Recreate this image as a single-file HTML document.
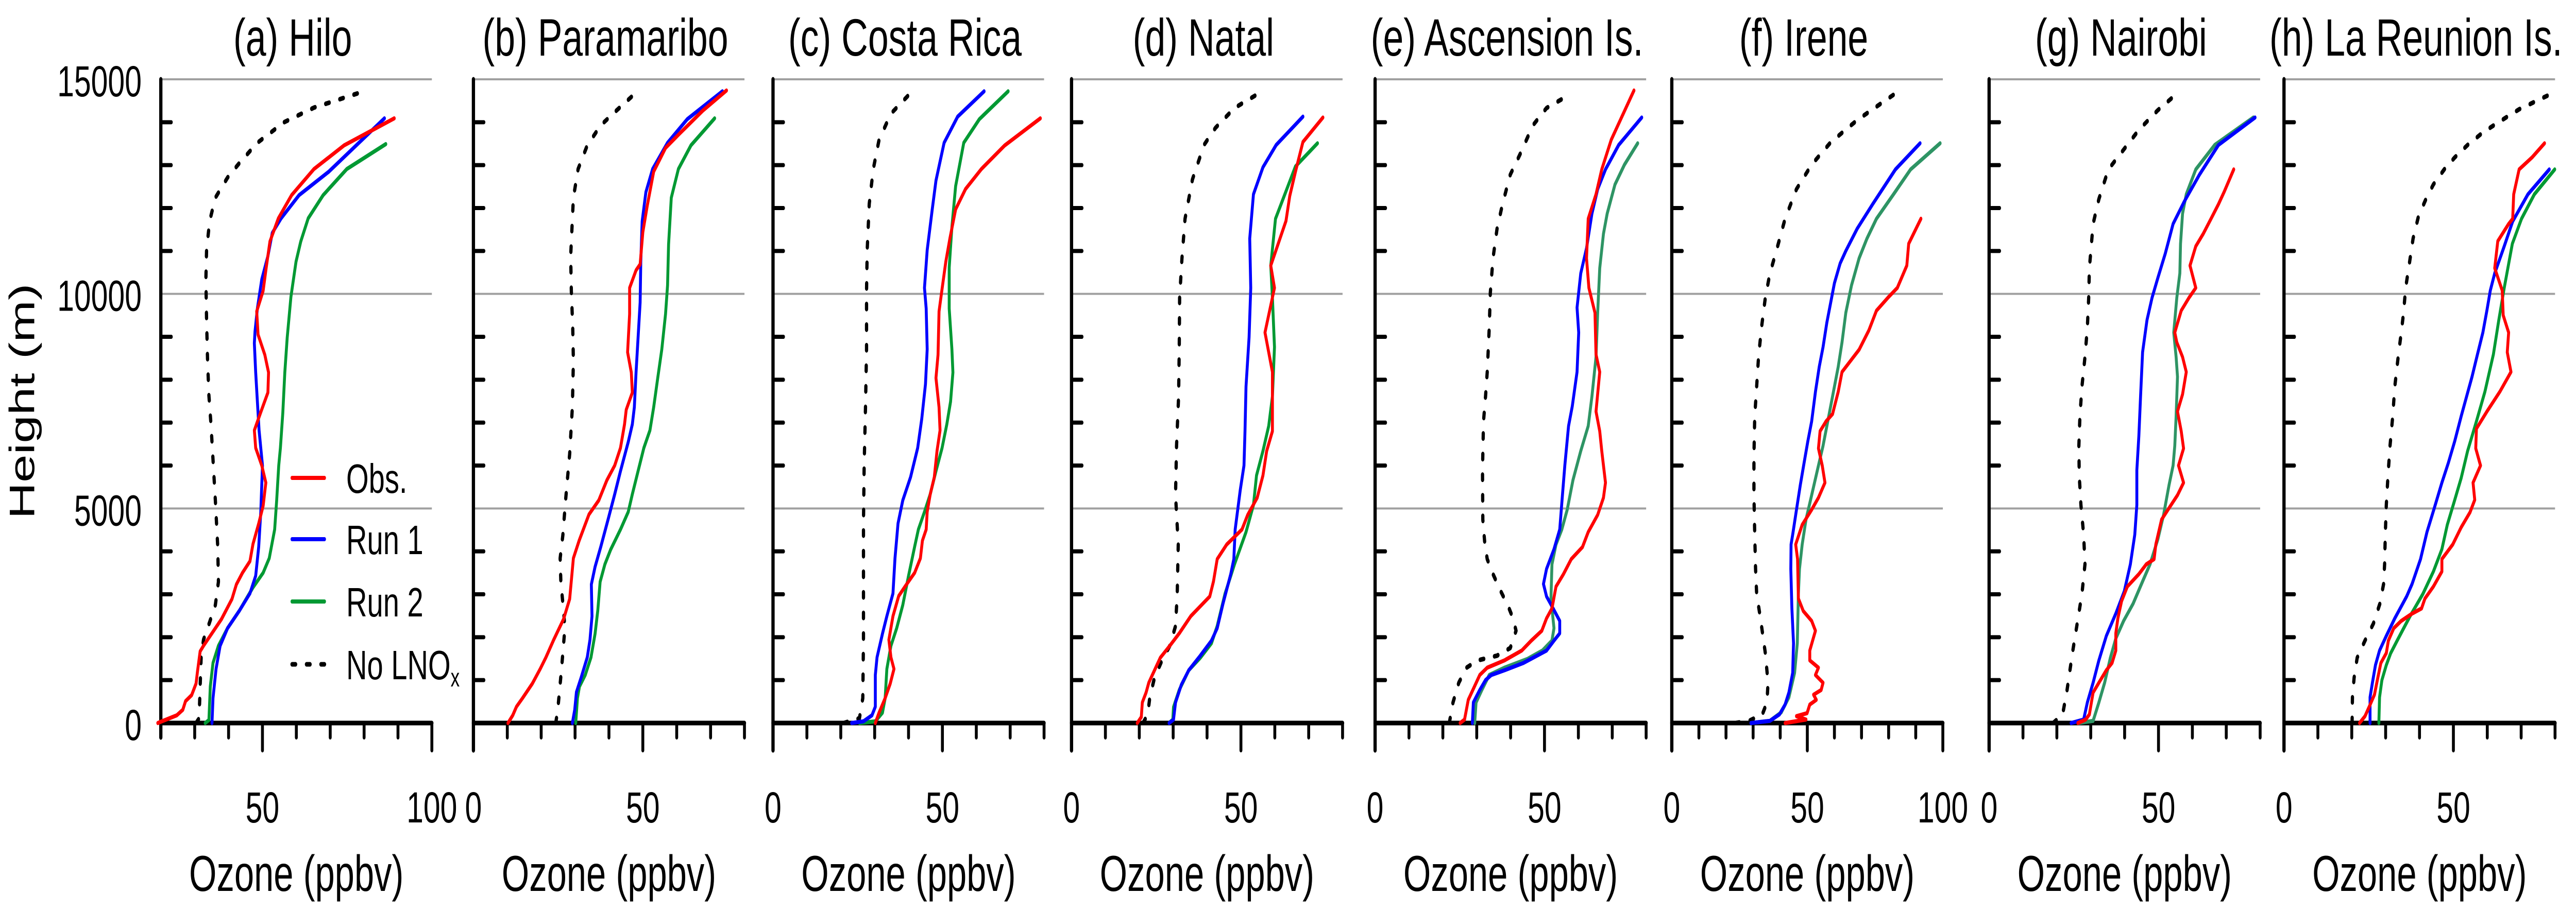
<!DOCTYPE html>
<html><head><meta charset="utf-8"><style>
html,body{margin:0;padding:0;background:#fff;overflow:hidden;width:100vw;height:100vh;}
svg{display:block;width:100vw;height:100vh;font-family:"Liberation Sans",Arial,sans-serif;}
</style></head><body>
<svg id="chart" viewBox="0 0 7128 1769" preserveAspectRatio="none" xmlns="http://www.w3.org/2000/svg"></svg>
<script>
// ---------- data (ozone ppbv, height km) ----------
const obsO_a=[19.1,20.3,24.7,26.5,27.3,29.1,30.4,30.8,31.6,32.6,34.4,37.9,41.0,42.3,44.1,46.3,47.2,48.9,50.2,51.0,49.8,48.0,47.6,49.4,51.6,51.8,50.7,48.7,48.3,50.2,51.1,52.2,54.7,58.6,65.2,74.1,88.9];
const obsH_a=[0,0.04,0.18,0.31,0.51,0.65,0.92,1.19,1.67,1.80,2.01,2.42,2.89,3.23,3.50,3.77,4.17,4.65,5.06,5.60,6.00,6.41,6.82,7.22,7.70,8.17,8.58,9.05,9.59,10.07,10.61,11.22,11.76,12.30,12.91,13.46,14.09];
const run1O_a=[35.1,35.4,36.3,37.5,39.7,43.2,46.3,48.0,48.9,49.5,50.0,49.0,48.5,48.0,47.6,47.8,48.5,49.8,51.6,52.9,55.5,60.8,69.6,86.0];
const run1H_a=[0,0.58,1.26,1.80,2.21,2.62,3.02,3.43,4.11,4.92,6.0,6.82,7.49,8.17,8.85,9.12,9.66,10.34,10.88,11.42,11.76,12.30,12.85,14.09];
const run2O_a=[33.1,34.2,34.6,35.4,37.0,39.7,43.2,47.2,50.2,52.0,53.6,54.2,54.8,55.3,56.0,56.6,57.3,58.4,59.9,61.3,63.5,67.9,74.9,86.4];
const run2H_a=[0,0.07,0.85,1.40,1.80,2.21,2.62,3.16,3.50,3.84,4.51,5.19,6.0,6.41,7.22,8.17,8.98,9.93,10.75,11.22,11.76,12.30,12.91,13.49];
const nolnoxO_a=[30.4,31.3,31.6,31.9,32.6,34.4,36.1,37.0,36.8,36.1,35.4,34.8,34.2,33.8,33.5,33.3,33.5,34.4,36.1,39.7,43.2,48.5,56.4,65.2,78.0];
const nolnoxH_a=[0,0.11,0.85,1.53,1.94,2.35,2.75,3.29,4.11,5.19,6.14,6.96,7.63,8.44,9.39,10.34,11.02,11.69,12.24,12.71,13.05,13.52,14.00,14.34,14.67];

const obsO_b=[10.2,11.6,12.7,14.5,17.4,19.7,21.4,23.7,26.6,28.4,29.5,31.2,34.1,37.0,39.4,41.7,43.4,44.6,45.1,46.9,46.6,45.5,46.1,46.1,48.0,49.2,50.0,51.3,53.2,56.7,60.8,67.7,74.7];
const obsH_b=[0,0.18,0.38,0.58,0.92,1.26,1.53,1.94,2.42,2.89,3.84,4.25,4.86,5.19,5.66,6.0,6.41,6.96,7.30,7.70,8.17,8.64,9.53,10.14,10.55,10.69,11.44,12.05,12.85,13.40,13.73,14.27,14.74];
const run1O_b=[29.2,29.9,30.4,31.8,33.6,34.4,35.0,34.8,35.9,37.6,39.9,41.7,43.4,45.7,46.9,47.5,48.0,48.6,49.2,49.4,49.8,50.9,52.9,57.3,63.1,73.5];
const run1H_b=[0,0.31,0.72,1.06,1.53,1.94,2.49,3.23,3.64,4.11,4.79,5.33,5.87,6.55,6.96,7.36,8.17,8.98,9.80,10.75,11.69,12.37,12.91,13.52,14.07,14.72];
const run2O_b=[30.2,30.7,31.3,33.0,34.7,35.9,36.7,37.4,38.8,40.5,43.4,45.7,46.9,48.6,50.3,52.1,53.2,54.4,55.6,56.7,57.3,57.6,58.4,60.5,64.2,71.2];
const run2H_b=[0,0.58,0.85,1.12,1.53,2.08,2.62,3.29,3.70,4.04,4.51,4.92,5.33,5.87,6.41,6.82,7.36,8.04,8.71,9.53,10.20,11.15,12.24,12.91,13.46,14.09];
const nolnoxO_b=[24.3,24.9,26.0,27.0,26.6,25.8,25.6,26.4,27.2,28.4,29.2,29.5,29.3,28.9,28.7,29.5,30.9,33.6,37.6,42.2,46.9];
const nolnoxH_b=[0,0.31,1.26,2.21,2.62,3.29,3.84,4.38,5.19,6.27,7.36,8.44,9.25,10.07,10.88,12.24,12.91,13.46,13.93,14.27,14.61];

const obsO_c=[30.2,31.3,33.1,34.6,35.7,34.8,34.2,35.4,37.1,39.4,41.8,43.5,44.1,45.2,45.5,46.4,47.6,48.4,49.3,49.0,48.1,48.7,49.0,49.7,51.0,52.2,53.9,56.8,61.5,68.4,78.9];
const obsH_c=[0,0.24,0.58,0.92,1.26,1.53,1.94,2.49,2.96,3.23,3.50,3.84,4.25,4.51,4.92,5.33,5.73,6.34,6.82,7.36,8.04,8.58,9.59,10.0,10.75,11.29,11.97,12.44,12.91,13.46,14.09];
const run1O_c=[23.2,26.7,29.2,30.2,30.2,30.7,32.3,33.6,35.4,36.0,36.9,38.3,40.6,42.7,43.9,45.0,45.5,45.2,44.7,45.5,47.0,48.1,50.5,54.5,62.3];
const run1H_c=[0,0.04,0.18,0.38,1.12,1.53,2.08,2.49,3.02,3.84,4.65,5.19,5.73,6.41,7.09,7.90,8.71,9.66,10.14,11.02,11.97,12.64,13.52,14.13,14.72];
const run2O_c=[25.5,30.2,32.3,33.1,33.6,34.8,36.5,38.3,40.0,41.8,42.9,44.7,46.4,48.1,49.9,51.3,52.4,53.1,52.8,52.0,52.0,52.8,53.9,56.3,60.9,69.4];
const run2H_c=[0,0.04,0.24,0.58,1.26,1.80,2.21,2.75,3.43,4.11,4.51,4.92,5.33,5.87,6.41,6.96,7.49,8.17,8.71,9.66,10.61,11.56,12.51,13.52,14.07,14.72];
const nolnoxO_c=[20.9,25.5,26.5,26.7,26.7,26.7,26.9,27.3,27.6,27.6,27.8,28.4,29.6,31.3,34.8,40.0];
const nolnoxH_c=[0,0.11,0.58,1.94,3.29,4.65,6.0,7.36,8.71,10.07,11.02,12.10,12.91,13.59,14.20,14.63];

const obsO_d=[19.4,20.6,20.9,22.0,22.8,24.5,26.2,29.0,31.8,35.2,38.0,40.8,41.9,43.0,45.8,50.3,52.0,54.8,56.5,57.6,59.3,59.3,57.1,59.9,58.8,63.3,64.4,66.1,68.3,74.2];
const obsH_d=[0,0.14,0.48,0.71,0.94,1.23,1.52,1.80,2.09,2.49,2.72,2.95,3.30,3.82,4.16,4.51,4.85,5.25,5.77,6.34,6.80,8.18,9.10,10.14,10.66,11.70,12.28,12.85,13.54,14.11];
const run1O_d=[28.8,30.1,30.7,32.4,34.6,38.0,41.3,43.0,44.7,47.0,47.9,48.3,49.8,50.9,51.2,51.5,52.4,52.9,52.6,53.7,56.5,60.4,68.3];
const run1H_d=[0,0.08,0.48,0.89,1.23,1.57,1.92,2.21,2.78,3.47,3.82,4.51,5.43,6.0,6.80,7.84,8.99,10.14,11.29,12.32,12.95,13.47,14.13];
const run2O_d=[28.8,29.9,30.1,31.8,34.6,38.0,41.3,43.0,45.3,48.1,51.5,53.7,54.6,56.5,58.2,59.3,59.9,59.3,58.8,60.2,63.3,66.1,72.6];
const run2H_d=[0,0.08,0.37,0.77,1.23,1.52,1.86,2.26,3.01,3.70,4.45,5.08,5.77,6.34,6.92,7.61,8.76,9.91,10.66,11.75,12.39,12.97,13.51];
const nolnoxO_d=[21.1,22.5,23.1,24.5,26.7,29.0,30.7,31.2,31.5,30.7,31.0,31.6,31.8,31.9,32.6,33.5,35.7,39.1,42.5,48.1,54.6];
const nolnoxH_d=[0,0.20,0.60,1.06,1.46,1.80,2.26,3.01,4.16,5.31,6.46,7.61,8.76,9.91,10.83,11.75,12.67,13.47,13.87,14.33,14.64];

const obsO_e=[25.1,26.4,27.5,29.2,30.9,33.1,38.2,43.3,46.1,49.2,50.6,52.2,53.4,55.6,57.9,61.2,62.9,65.7,67.4,68.0,66.9,66.3,65.2,66.3,65.2,64.9,63.1,62.4,62.9,65.2,66.9,69.7,76.4];
const obsH_e=[0,0.08,0.54,0.83,1.12,1.29,1.46,1.69,1.92,2.15,2.44,2.67,3.18,3.47,3.82,4.10,4.45,4.85,5.25,5.60,6.34,6.80,7.26,8.18,8.59,9.56,10.14,10.83,11.75,12.32,12.90,13.59,14.74];
const run1O_e=[28.7,29.0,30.9,32.6,34.3,38.2,43.8,50.6,52.8,54.5,54.5,52.2,50.6,49.7,50.6,52.8,54.5,55.3,56.0,57.1,58.2,59.6,60.1,59.6,60.7,62.4,64.0,65.7,68.0,71.9,78.7];
const run1H_e=[0,0.48,0.77,1.00,1.12,1.23,1.40,1.69,1.92,2.09,2.38,2.72,2.95,3.24,3.59,4.05,4.51,5.31,6.0,6.92,7.38,8.18,9.10,9.68,10.48,11.06,11.87,12.44,12.90,13.47,14.11];
const run2O_e=[29.4,29.8,31.5,33.7,38.2,44.9,49.4,52.2,52.8,51.9,52.2,53.4,55.1,56.7,58.4,60.7,62.9,64.0,65.2,65.7,66.3,67.4,68.5,70.8,73.6,77.5];
const run2H_e=[0,0.48,0.77,1.12,1.29,1.49,1.69,1.92,2.21,2.90,3.70,4.16,4.51,4.97,5.66,6.34,6.92,7.61,8.53,9.56,10.60,11.40,11.87,12.55,13.01,13.51];
const nolnoxO_e=[21.9,23.0,24.7,27.0,30.3,36.0,39.9,41.6,40.7,39.3,37.1,34.8,33.1,32.4,31.8,31.7,32.0,32.6,33.1,33.7,34.0,34.8,36.0,37.6,39.9,42.7,46.6,50.6,55.6];
const nolnoxH_e=[0,0.48,0.94,1.29,1.46,1.57,1.75,2.15,2.44,2.72,3.07,3.47,3.82,4.16,4.74,5.89,7.03,7.61,8.18,9.22,10.02,10.83,11.52,12.09,12.78,13.24,13.93,14.33,14.56];

const obsO_f=[41.8,49.5,46.0,49.9,50.9,53.3,52.3,55.1,55.8,53.0,54.1,50.9,50.9,53.0,51.6,48.5,46.7,46.4,45.7,48.1,51.6,54.1,56.5,55.5,54.1,54.7,56.9,59.3,61.4,62.8,66.3,69.1,72.7,75.5,79.7,83.2,86.7,87.4,91.9];
const obsH_f=[0,0.08,0.16,0.23,0.43,0.54,0.66,0.77,0.94,1.12,1.29,1.46,1.69,2.15,2.38,2.61,2.90,3.82,4.16,4.62,4.97,5.25,5.60,6.0,6.40,6.80,7.03,7.20,7.72,8.18,8.47,8.70,9.15,9.61,9.91,10.14,10.66,11.17,11.75];
const run1O_f=[29.2,36.2,39.7,41.8,43.2,44.6,44.9,44.3,43.9,44.0,44.6,46.0,47.4,48.8,50.2,51.6,53.0,54.4,55.8,57.2,58.6,60.0,62.1,64.2,68.4,74.1,82.5,91.6];
const run1H_f=[0,0.05,0.20,0.43,0.71,1.17,1.86,2.67,3.59,4.16,4.39,4.97,5.54,6.06,6.57,7.03,7.72,8.30,8.76,9.33,9.79,10.25,10.71,11.0,11.52,12.09,12.90,13.51];
const run2O_f=[29.2,36.2,40.4,43.2,45.3,46.3,46.7,47.1,48.1,49.5,51.6,53.7,55.8,57.9,59.3,61.4,62.8,64.2,66.3,69.1,72.0,75.5,81.8,88.1,99.0];
const run2H_f=[0,0.05,0.25,0.60,1.17,1.86,3.01,3.59,4.16,4.74,5.31,5.89,6.46,7.15,7.61,8.30,8.87,9.56,10.20,10.83,11.29,11.75,12.32,12.90,13.51];
const nolnoxO_f=[23.6,28.5,33.4,35.1,35.5,34.5,32.7,31.3,30.9,30.6,30.3,30.3,30.6,31.3,32.0,33.1,34.5,36.2,38.3,41.8,46.0,51.6,58.6,68.4,81.8];
const nolnoxH_f=[0,0.05,0.20,0.48,0.94,1.63,2.44,3.01,3.59,4.39,5.31,6.23,7.15,7.84,8.53,9.22,9.91,10.48,10.94,11.75,12.44,13.01,13.53,14.05,14.64];

const obsO_g=[26.2,28.5,29.6,30.2,30.7,32.4,34.6,36.3,37.4,37.4,38.0,39.1,40.8,44.2,46.4,48.7,49.2,50.9,53.7,55.6,57.4,55.9,57.4,56.7,55.6,57.1,58.2,57.1,55.4,54.8,56.7,59.0,61.0,59.3,61.0,63.2,65.5,67.7,69.4,72.2];
const obsH_g=[0,0.08,0.20,0.48,0.71,0.94,1.23,1.40,1.69,2.09,2.44,2.84,3.18,3.47,3.70,3.82,4.16,4.74,5.08,5.31,5.60,6.0,6.40,6.80,7.26,7.66,8.18,8.53,8.87,9.10,9.61,9.91,10.14,10.66,11.11,11.40,11.75,12.09,12.38,12.90];
const run1O_g=[24.2,27.9,29.0,30.7,32.4,34.6,37.4,39.9,41.7,43.0,43.6,43.6,44.2,44.7,45.3,46.6,48.1,49.8,52.0,54.3,57.6,62.1,67.7,78.5];
const run1H_g=[0,0.08,0.48,0.94,1.46,2.03,2.55,3.07,3.70,4.39,5.08,5.89,6.69,7.61,8.64,9.39,9.91,10.37,10.94,11.63,12.15,12.78,13.47,14.11];
const run2O_g=[26.2,30.7,32.4,34.1,35.8,37.4,39.7,42.5,45.3,47.5,49.8,51.5,53.1,54.3,54.8,55.2,55.6,55.2,54.5,55.4,56.3,56.5,57.1,58.2,61.0,66.6,78.0];
const run2H_g=[0,0.05,0.48,0.94,1.52,1.97,2.38,2.78,3.30,3.70,4.28,4.85,5.54,6.0,6.46,7.15,8.07,8.53,9.10,9.91,10.48,11.17,11.87,12.32,12.90,13.47,14.11];
const nolnoxO_g=[18.9,21.7,22.9,24.6,26.0,27.4,28.3,27.9,27.1,26.6,26.5,26.8,27.4,28.3,29.0,29.4,29.6,30.7,32.4,35.2,39.7,44.2,49.8,56.5];
const nolnoxH_g=[0,0.20,0.71,1.63,2.32,3.01,3.70,4.39,5.08,5.77,6.46,7.15,7.84,8.53,9.22,9.91,10.60,11.63,12.21,12.90,13.36,13.82,14.28,14.74];

const obsO_h=[22.3,23.9,25.1,26.7,27.7,28.6,30.2,30.8,32.4,34.6,37.8,40.6,41.6,44.1,46.6,46.6,49.8,52.3,54.9,56.3,55.8,58.0,56.6,56.8,59.9,63.7,67.0,65.9,66.3,64.7,64.4,62.2,63.1,66.3,67.5,67.8,69.4,73.2,76.9];
const obsH_h=[0,0.16,0.37,0.66,1.06,1.40,1.63,1.92,2.21,2.38,2.55,2.67,2.90,3.18,3.53,3.82,4.16,4.56,4.91,5.20,5.60,6.0,6.40,6.86,7.26,7.72,8.18,8.64,9.10,9.50,10.08,10.60,11.23,11.63,11.75,12.32,12.90,13.18,13.51];
const run1O_h=[25.4,25.4,26.1,27.0,28.2,30.2,32.7,36.2,37.8,40.3,42.2,44.4,46.6,48.5,50.4,52.3,53.9,55.5,57.1,58.7,59.9,60.9,62.2,65.0,67.5,72.0,78.3];
const run1H_h=[0,0.60,0.94,1.35,1.69,2.03,2.44,2.95,3.24,3.82,4.45,5.02,5.60,6.06,6.57,7.15,7.61,8.07,8.59,9.10,9.62,10.08,10.48,11.11,11.69,12.32,12.90];
const run2O_h=[28.0,28.2,28.9,30.2,31.5,33.4,37.2,41.0,44.1,46.6,48.2,50.4,52.3,54.2,56.8,59.3,61.8,63.4,65.0,67.4,70.1,73.9,79.9];
const run2H_h=[0,0.60,1.00,1.35,1.63,1.92,2.49,3.01,3.53,4.05,4.62,5.20,5.71,6.34,7.03,7.72,8.59,9.39,10.14,11.17,11.75,12.32,12.90];
const nolnoxO_h=[20.1,20.2,20.7,21.6,23.9,26.4,28.3,29.4,29.7,29.9,30.2,30.7,31.3,32.1,32.7,33.7,34.6,35.3,35.9,36.8,38.1,39.7,41.9,44.1,47.3,50.4,54.2,58.7,63.1,69.4,78.3];
const nolnoxH_h=[0,0.60,1.06,1.52,1.92,2.32,2.78,3.24,3.70,4.39,5.08,5.77,6.46,7.15,7.84,8.53,9.10,9.56,10.14,10.60,11.29,11.81,12.21,12.55,12.90,13.18,13.47,13.76,13.99,14.30,14.64];

const panelTitles=["(a) Hilo","(b) Paramaribo","(c) Costa Rica","(d) Natal","(e) Ascension Is.","(f) Irene","(g) Nairobi","(h) La Reunion Is."];
const xMins=[20,0,0,0,0,0,0,0];
const xMaxs=[100,80,80,80,80,100,80,80];
const xTickLabels_a=[50,100];
const xTickLabels_f=[0,50,100];
const xTickLabels_other=[0,50];
const yTickLabels=[0,5000,10000,15000];
const seriesNames=["Obs.","Run 1","Run 2","No LNOx"];

const allData={
 a:[obsO_a,obsH_a,run1O_a,run1H_a,run2O_a,run2H_a,nolnoxO_a,nolnoxH_a],
 b:[obsO_b,obsH_b,run1O_b,run1H_b,run2O_b,run2H_b,nolnoxO_b,nolnoxH_b],
 c:[obsO_c,obsH_c,run1O_c,run1H_c,run2O_c,run2H_c,nolnoxO_c,nolnoxH_c],
 d:[obsO_d,obsH_d,run1O_d,run1H_d,run2O_d,run2H_d,nolnoxO_d,nolnoxH_d],
 e:[obsO_e,obsH_e,run1O_e,run1H_e,run2O_e,run2H_e,nolnoxO_e,nolnoxH_e],
 f:[obsO_f,obsH_f,run1O_f,run1H_f,run2O_f,run2H_f,nolnoxO_f,nolnoxH_f],
 g:[obsO_g,obsH_g,run1O_g,run1H_g,run2O_g,run2H_g,nolnoxO_g,nolnoxH_g],
 h:[obsO_h,obsH_h,run1O_h,run1H_h,run2O_h,run2H_h,nolnoxO_h,nolnoxH_h]
};

// ---------- layout ----------
const axisLeft=[445,1310,2139,2965,3805,4626,5504,6320];
const axisWidth=750, yZero=1404, yTop=154, yMaxVal=15000;
const keys=["a","b","c","d","e","f","g","h"];
const svg=document.getElementById('chart');
const NS="http://www.w3.org/2000/svg";
function mk(tag,attrs,parent){const e=document.createElementNS(NS,tag);for(const k in attrs)e.setAttribute(k,attrs[k]);(parent||svg).appendChild(e);return e;}
function yScale(m){return yZero-(m/yMaxVal)*(yZero-yTop);}

keys.forEach((k,i)=>{
  const x0=axisLeft[i], xmin=xMins[i], xmax=xMaxs[i];
  const xs=v=>x0+(v-xmin)/(xmax-xmin)*axisWidth;
  const g=mk('g',{});
  
  
  [5000,10000,15000].forEach(v=>{
    const l=mk('line',{x1:x0,x2:x0+axisWidth,y1:yScale(v),y2:yScale(v),stroke:'#a0a0a0','stroke-width':4},g);
    
    
  });
  for(let m=1000;m<15000;m+=1000){ if(m%5000===0)continue;
    const t=mk('line',{x1:x0,x2:x0+29,y1:yScale(m),y2:yScale(m),stroke:'#000','stroke-width':8,'stroke-linecap':'round'},g);
    
    
  }
  for(let v=xmin;v<=xmax;v+=10){
    const major=(v%50===0);
    const t=mk('line',{x1:xs(v),x2:xs(v),y1:yZero,y2:yZero+(major?53:28),stroke:'#000','stroke-width':8,'stroke-linecap':'round'},g);
    
    
  }
  const ya=mk('line',{x1:x0,x2:x0,y1:yTop,y2:yZero+(xmin%50===0?53:28),stroke:'#000','stroke-width':9,'stroke-linecap':'round'},g);
  
  
  const xa=mk('line',{x1:x0,x2:x0+axisWidth,y1:yZero,y2:yZero,stroke:'#000','stroke-width':9,'stroke-linecap':'round'},g);
  
  
  const labs = k==='a'?xTickLabels_a:(k==='f'?xTickLabels_f:xTickLabels_other);
  labs.forEach(v=>{
    const t=mk('text',{x:xs(v),y:1597,'font-size':84,'text-anchor':'middle',fill:'#000'},g);
    t.textContent=v;
    
    
  });
  const tt=mk('text',{x:x0+axisWidth/2-10,y:108,'font-size':102,'text-anchor':'middle',fill:'#000'},g);
  tt.textContent=panelTitles[i];
  
  
  const xt=mk('text',{x:x0+axisWidth/2,y:1730,'font-size':98,'text-anchor':'middle',fill:'#000'},g);
  xt.textContent="Ozone (ppbv)";
  
  
  const D=allData[k];
  const green=(k==='e'||k==='f'||k==='g')?'#2e9464':'#009933';
  const series=[
    [D[6],D[7],'#000',true,'series-no-lnox'],
    [D[4],D[5],green,false,'series-run2'],
    [D[2],D[3],'#0000ff',false,'series-run1'],
    [D[0],D[1],'#ff0000',false,'series-obs']
  ];
  series.forEach(s=>{
    const O=s[0],H=s[1];const n=Math.min(O.length,H.length);
    let d='';for(let j=0;j<n;j++){d+=(j?'L':'M')+xs(O[j]).toFixed(1)+','+yScale(H[j]*1000).toFixed(1);}
    const p=mk('path',{d:d,fill:'none',stroke:s[2],'stroke-width':s[3]?9:8,'stroke-linejoin':'round','stroke-linecap':'round'},g);
    if(s[3])p.setAttribute('stroke-dasharray','10 30');
    
    
  });
});

yTickLabels.forEach(v=>{
  const t=mk('text',{x:392,y:yScale(v)+33,'font-size':84,'text-anchor':'end',fill:'#000'});
  t.textContent=v;
  
  
});
const yt=mk('text',{x:0,y:0,'font-size':98,'text-anchor':'middle',fill:'#000',transform:'translate(95,779) rotate(-90)'});
yt.textContent="Height (m)";



const legColors=['#ff0000','#0000ff','#009933','#000'];
const legY=[928,1047,1168,1290];
const lg=mk('g',{});


seriesNames.forEach((nm,i)=>{
  const l=mk('line',{x1:808,x2:898,y1:legY[i],y2:legY[i],stroke:legColors[i],'stroke-width':i===3?9:8,'stroke-linecap':'round'},lg);
  if(i===3)l.setAttribute('stroke-dasharray','10 30');
  
  
  const t=mk('text',{x:958,y:legY[i]+29,'font-size':80,fill:'#000'},lg);
  if(i===3){t.textContent="No LNO";const s=mk('tspan',{'font-size':50,dy:14},t);s.textContent="x";}
  else t.textContent=nm;
  
  
});
</script>
</body></html>
